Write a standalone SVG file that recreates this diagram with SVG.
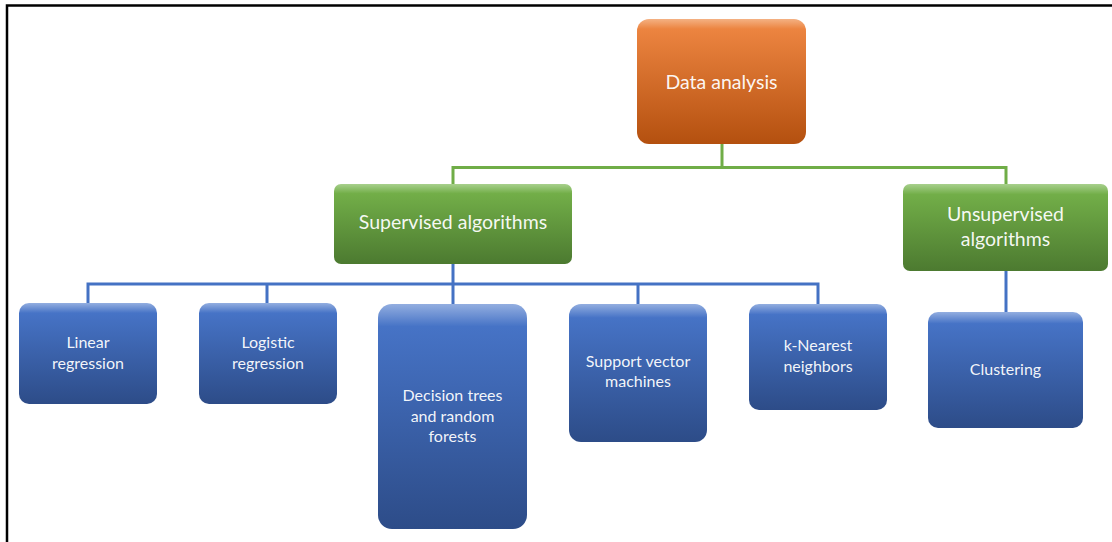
<svg xmlns="http://www.w3.org/2000/svg" width="1112" height="542" viewBox="0 0 1112 542">
  <defs>
    <linearGradient id="gOrange" x1="0" y1="0" x2="0" y2="1">
      <stop offset="0" stop-color="#F4B183"/>
      <stop offset="0.08" stop-color="#EC8440"/>
      <stop offset="1" stop-color="#B4500F"/>
    </linearGradient>
    <linearGradient id="gGreen" x1="0" y1="0" x2="0" y2="1">
      <stop offset="0" stop-color="#A8D08D"/>
      <stop offset="0.12" stop-color="#72AE48"/>
      <stop offset="1" stop-color="#4C7A30"/>
    </linearGradient>
    <linearGradient id="gBlue" x1="0" y1="0" x2="0" y2="1">
      <stop offset="0" stop-color="#93AEE0"/>
      <stop offset="0.1" stop-color="#4673C6"/>
      <stop offset="1" stop-color="#2D4C88"/>
    </linearGradient>
    <style>
      .lbl { font-family: "Lato", "Liberation Sans", sans-serif; fill: #FFFFFF; fill-opacity: 0.95; text-anchor: middle; }
      .big { font-size: 19.5px; }
      .small { font-size: 16px; }
      .green { fill: none; stroke: #70AD47; stroke-width: 3; }
      .blue { fill: none; stroke: #4472C4; stroke-width: 3; }
      .frame { fill: none; stroke: #000000; stroke-width: 2.5; }
    </style>
  </defs>

  <rect width="1112" height="542" fill="#FFFFFF"/>
  <!-- outer frame (top and left edges) -->
  <path class="frame" d="M7 542 V5.5 H1112"/>

  <!-- connectors -->
  <g id="connectors">
    <path class="green" d="M722 143 V167.5 M453 184 V167.5 H1006 V184"/>
    <path class="blue" d="M453 264 V304 M88 303 V284 H818 V304 M267 284 V303 M638 284 V304"/>
    <path class="blue" d="M1006 271 V312"/>
  </g>

  <g id="data-analysis">
    <rect x="637" y="19" width="169" height="125" rx="12" fill="url(#gOrange)"/>
    <text class="lbl big" x="721.5" y="89">Data analysis</text>
  </g>

  <g id="supervised">
    <rect x="334" y="184" width="238" height="80" rx="7" fill="url(#gGreen)"/>
    <text class="lbl big" x="453" y="229">Supervised algorithms</text>
  </g>

  <g id="unsupervised">
    <rect x="903" y="184" width="205" height="87" rx="7" fill="url(#gGreen)"/>
    <text class="lbl big" x="1005.5" y="221">Unsupervised</text>
    <text class="lbl big" x="1005.5" y="246">algorithms</text>
  </g>

  <g id="linear-regression">
    <rect x="19" y="303" width="138" height="101" rx="10" fill="url(#gBlue)"/>
    <text class="lbl small" x="88" y="348">Linear</text>
    <text class="lbl small" x="88" y="369">regression</text>
  </g>

  <g id="logistic-regression">
    <rect x="199" y="303" width="138" height="101" rx="10" fill="url(#gBlue)"/>
    <text class="lbl small" x="268" y="348">Logistic</text>
    <text class="lbl small" x="268" y="369">regression</text>
  </g>

  <g id="decision-trees">
    <rect x="378" y="304" width="149" height="225" rx="14" fill="url(#gBlue)"/>
    <text class="lbl small" x="452.5" y="401">Decision trees</text>
    <text class="lbl small" x="452.5" y="422">and random</text>
    <text class="lbl small" x="452.5" y="442">forests</text>
  </g>

  <g id="svm">
    <rect x="569" y="304" width="138" height="138" rx="12" fill="url(#gBlue)"/>
    <text class="lbl small" x="638" y="367">Support vector</text>
    <text class="lbl small" x="638" y="387">machines</text>
  </g>

  <g id="knn">
    <rect x="749" y="304" width="138" height="106" rx="10" fill="url(#gBlue)"/>
    <text class="lbl small" x="818" y="351">k-Nearest</text>
    <text class="lbl small" x="818" y="372">neighbors</text>
  </g>

  <g id="clustering">
    <rect x="928" y="312" width="155" height="116" rx="10" fill="url(#gBlue)"/>
    <text class="lbl small" x="1005.5" y="375">Clustering</text>
  </g>
</svg>
